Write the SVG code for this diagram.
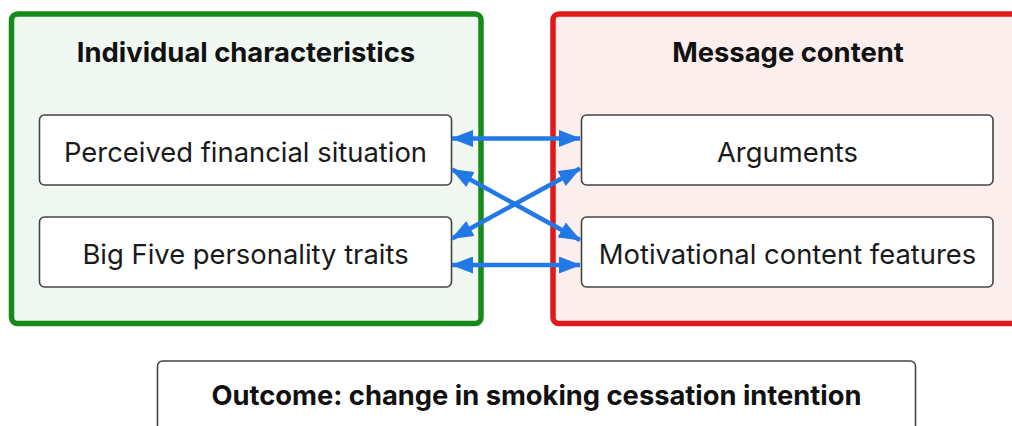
<svg xmlns="http://www.w3.org/2000/svg" width="1012" height="426" viewBox="0 0 1012 426">
<style>
.bg{fill:#ffffff}
.grp-g{fill:#f1f7f1;stroke:#178a1c;stroke-width:5.5}
.grp-r{fill:#fdeeee;stroke:#e0191b;stroke-width:5.5}
.node{fill:#ffffff;stroke:#444444;stroke-width:1.6}
.title{font-family:Inter,"Liberation Sans",sans-serif;font-weight:700;font-size:27.4px;fill:#111111;text-anchor:middle}
.lbl{font-family:Inter,"Liberation Sans",sans-serif;font-weight:400;font-size:27.4px;fill:#1a1a1a;text-anchor:middle}
.conn{stroke:#2279e6;stroke-width:4.5;fill:none;marker-start:url(#ah);marker-end:url(#ah)}
</style>
<defs>
<marker id="ah" viewBox="0 0 22 17" refX="21" refY="8.5" markerWidth="22" markerHeight="17" markerUnits="userSpaceOnUse" orient="auto-start-reverse">
<path d="M0,0 L22,8.5 L0,17 Z" fill="#2279e6"/>
</marker>
</defs>
<rect class="bg" x="0" y="0" width="1012" height="426"/>
<g id="individual-characteristics">
<rect class="grp-g" x="11.5" y="14" width="469.5" height="309.5" rx="6"/>
<text class="title" x="246" y="61.5">Individual characteristics</text>
</g>
<g id="message-content">
<rect class="grp-r" x="553" y="14" width="470" height="309.5" rx="6"/>
<text class="title" x="788" y="61.5">Message content</text>
</g>
<g id="perceived-financial-situation">
<rect class="node" x="39.5" y="115" width="412" height="70" rx="5"/>
<text class="lbl" x="245.5" y="161.5">Perceived financial situation</text>
</g>
<g id="big-five">
<rect class="node" x="39.5" y="217" width="412" height="70" rx="5"/>
<text class="lbl" x="245.5" y="263.5">Big Five personality traits</text>
</g>
<g id="arguments">
<rect class="node" x="581.5" y="115" width="411.5" height="70" rx="5"/>
<text class="lbl" x="787.5" y="161.5">Arguments</text>
</g>
<g id="motivational-content">
<rect class="node" x="581.5" y="217" width="411.5" height="70" rx="5"/>
<text class="lbl" x="787.5" y="263.5">Motivational content features</text>
</g>
<g id="outcome">
<rect class="node" x="157.5" y="361" width="758" height="80" rx="5"/>
<text class="title" x="536.5" y="405" textLength="650" lengthAdjust="spacingAndGlyphs">Outcome: change in smoking cessation intention</text>
</g>
<g id="connectors">
<line class="conn" x1="452" y1="138.5" x2="580" y2="138.5"/>
<line class="conn" x1="452" y1="169.5" x2="580" y2="240"/>
<line class="conn" x1="452" y1="238.5" x2="580" y2="168.5"/>
<line class="conn" x1="452" y1="265" x2="580" y2="265"/>
</g>
</svg>
